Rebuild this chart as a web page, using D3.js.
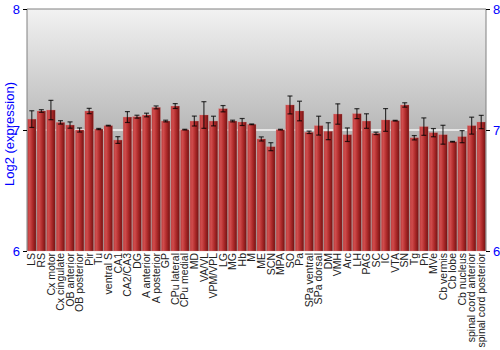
<!DOCTYPE html>
<html>
<head>
<meta charset="utf-8">
<script src="https://cdn.jsdelivr.net/npm/d3@7"></script>
<style>
  body { margin: 0; background: #fff; }
  svg { display: block; font-family: "Liberation Sans", Arial, sans-serif; }
</style>
</head>
<body>
<div id="chart"></div>
<script>
// >-----------------< Data >-------------------<
const regions = ["LS", "RS", "Cx motor", "Cx cingulate", "OB anterior", "OB posterior", "Pir", "Tu",
  "ventral S", "CA1", "CA2/CA3", "DG", "A anterior", "A posterior", "GP", "CPu lateral", "CPu medial",
  "MD", "VA/VL", "VPM/VPL", "LG", "MG", "Hb", "M", "ME", "SCN", "MPA", "SO", "Pa", "SPa ventral",
  "SPa dorsal", "DM", "VMH", "Arc", "LH", "PAG", "SC", "IC", "VTA", "SN", "Tg", "Pn", "MVe",
  "Cb vermis", "Cb lobe", "Cb nucleus", "spinal cord anterior", "spinal cord posterior"];

const expression = [7.09, 7.157, 7.165, 7.063, 7.041, 7.0, 7.157, 7.008,
  7.036, 6.917, 7.107, 7.11, 7.124, 7.187, 7.074, 7.198, 7.003,
  7.074, 7.124, 7.074, 7.176, 7.074, 7.066, 7.047, 6.926, 6.862, 7.003, 7.207, 7.157, 6.981,
  7.036, 6.99, 7.132, 6.961, 7.135, 7.074, 6.972, 7.083, 7.077, 7.207, 6.936, 7.028, 6.978,
  6.961, 6.903, 6.945, 7.036, 7.066];

const errors = [0.069, 0.011, 0.08, 0.014, 0.026, 0.017, 0.022, 0.005,
  0.003, 0.028, 0.045, 0.012, 0.015, 0.012, 0.007, 0.02, 0.003,
  0.041, 0.11, 0.04, 0.026, 0.007, 0.029, 0.003, 0.017, 0.033, 0.003, 0.074, 0.081, 0.01,
  0.078, 0.07, 0.084, 0.056, 0.041, 0.06, 0.01, 0.094, 0.003, 0.018, 0.018, 0.072, 0.034,
  0.078, 0.003, 0.05, 0.07, 0.055];

const yTicks = [6, 7, 8];

// >-----------------< Layout >-------------------<
const width = 500, height = 350;
const margin = {top: 9, right: 14, bottom: 99, left: 27};
const chartWidth = width - margin.left - margin.right;
const chartHeight = height - margin.top - margin.bottom;

const data = regions.map((name, i) => ({name, value: expression[i], err: errors[i]}));

const svg = d3.select("#chart").append("svg")
  .attr("width", width)
  .attr("height", height);

const defs = svg.append("defs");

const bg = defs.append("linearGradient")
  .attr("id", "bg").attr("x1", 0).attr("y1", 0).attr("x2", 0).attr("y2", 1);
bg.append("stop").attr("offset", "0%").attr("stop-color", "#f2f2f2");
bg.append("stop").attr("offset", "50%").attr("stop-color", "#b8b8b8");
bg.append("stop").attr("offset", "100%").attr("stop-color", "#909090");

const barGrad = defs.append("linearGradient")
  .attr("id", "bar").attr("x1", 0).attr("y1", 0).attr("x2", 1).attr("y2", 0);
barGrad.append("stop").attr("offset", "0%").attr("stop-color", "#bc3c3c");
barGrad.append("stop").attr("offset", "25%").attr("stop-color", "#d04c4c");
barGrad.append("stop").attr("offset", "60%").attr("stop-color", "#ae2a2a");
barGrad.append("stop").attr("offset", "100%").attr("stop-color", "#721212");

const g = svg.append("g")
  .attr("transform", `translate(${margin.left},${margin.top})`);

const x = d3.scaleBand()
  .domain(regions)
  .range([0, chartWidth])
  .paddingInner(0.1)
  .paddingOuter(0.05);

const y = d3.scaleLinear()
  .domain([6, 8])
  .range([chartHeight, 0]);

// Background
g.append("rect")
  .attr("width", chartWidth)
  .attr("height", chartHeight)
  .attr("fill", "url(#bg)");

// Grid line at 7
g.append("line")
  .attr("x1", 0).attr("x2", chartWidth)
  .attr("y1", y(7)).attr("y2", y(7))
  .attr("stroke", "#f4f4f4")
  .attr("stroke-width", 1.5);

// Bars
g.selectAll(".bar")
  .data(data)
  .enter().append("rect")
  .attr("class", "bar")
  .attr("x", d => x(d.name))
  .attr("y", d => y(d.value))
  .attr("width", x.bandwidth())
  .attr("height", d => chartHeight - y(d.value))
  .attr("fill", "url(#bar)")
  .attr("stroke", "rgba(220,140,140,0.5)")
  .attr("stroke-width", 0.5);

// Error bars
const eb = g.selectAll(".err")
  .data(data)
  .enter().append("g")
  .attr("class", "err")
  .attr("stroke", "rgba(0,0,0,0.75)")
  .attr("stroke-width", 1.2);

eb.append("line")
  .attr("x1", d => x(d.name) + x.bandwidth() / 2)
  .attr("x2", d => x(d.name) + x.bandwidth() / 2)
  .attr("y1", d => y(d.value + d.err))
  .attr("y2", d => y(d.value - d.err));

[1, -1].forEach(s => {
  eb.append("line")
    .attr("x1", d => x(d.name) + x.bandwidth() / 2 - 2.5)
    .attr("x2", d => x(d.name) + x.bandwidth() / 2 + 2.5)
    .attr("y1", d => y(d.value + s * d.err))
    .attr("y2", d => y(d.value + s * d.err));
});

// Frame
g.append("path")
  .attr("d", `M0,${chartHeight}V0H${chartWidth}V${chartHeight}`)
  .attr("fill", "none")
  .attr("stroke", "#808080")
  .attr("stroke-width", 1);

// Axes
const left = g.append("g")
  .call(d3.axisLeft(y).tickValues(yTicks).tickSize(4).tickFormat(d3.format("d")));
const right = g.append("g")
  .attr("transform", `translate(${chartWidth},0)`)
  .call(d3.axisRight(y).tickValues(yTicks).tickSize(4).tickFormat(d3.format("d")));

[left, right].forEach(ax => {
  ax.select(".domain").remove();
  ax.selectAll("line").attr("stroke", "#000");
  ax.selectAll("text")
    .attr("fill", "#0000ff")
    .attr("font-size", "13px")
    .style("font-family", "'Liberation Sans', Arial, sans-serif");
});

// X labels
const xAxis = g.append("g")
  .attr("transform", `translate(0,${chartHeight})`)
  .call(d3.axisBottom(x).tickSize(0).tickPadding(0));
xAxis.select(".domain").remove();
xAxis.selectAll("text")
  .attr("transform", "rotate(-90)")
  .attr("x", -2)
  .attr("y", 0)
  .attr("dy", "0.35em")
  .attr("text-anchor", "end")
  .attr("fill", "#222")
  .attr("font-size", "10.5px")
  .style("font-family", "'Liberation Sans', Arial, sans-serif");

// Y title
svg.append("text")
  .attr("transform", `translate(14,${margin.top + chartHeight / 2 + 4}) rotate(-90)`)
  .attr("text-anchor", "middle")
  .attr("fill", "#0000ff")
  .attr("font-size", "13px")
  .text("Log2 (expression)");
</script>
</body>
</html>
